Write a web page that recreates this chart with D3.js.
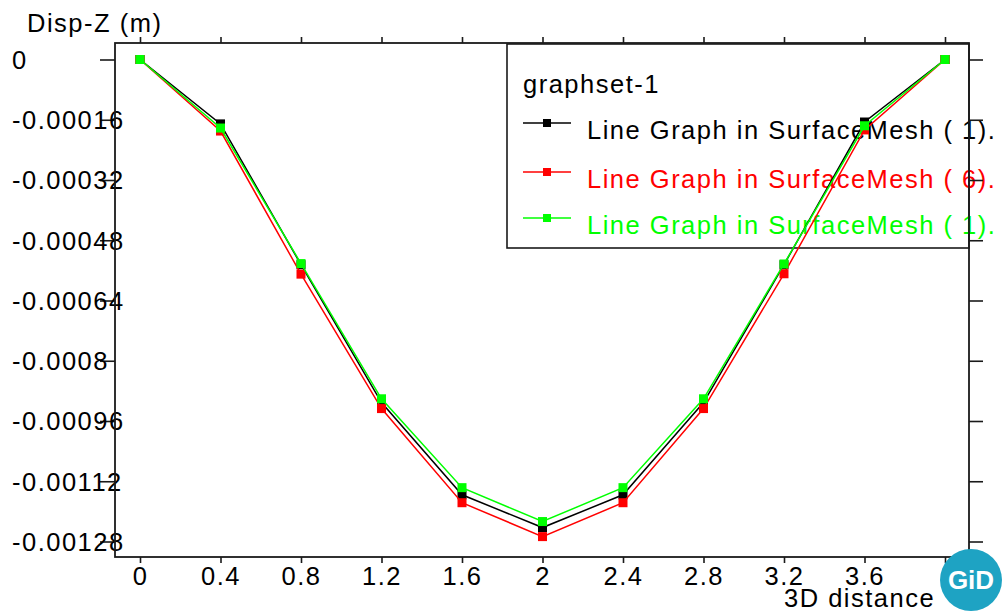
<!DOCTYPE html>
<html>
<head>
<meta charset="utf-8">
<script src="https://cdn.jsdelivr.net/npm/d3@7"></script>
<style>
  html, body { margin: 0; padding: 0; background: #fff; }
  svg { display: block; }
  text { font-family: "Liberation Sans", Arial, Helvetica, sans-serif; font-size: 25.5px; letter-spacing: 1.5px; }
</style>
</head>
<body>
<svg id="chart" width="1002" height="612"></svg>
<script>
// Distance along the cut line (3D distance)
const distances = [0, 0.4, 0.8, 1.2, 1.6, 2.0, 2.4, 2.8, 3.2, 3.6, 4.0];

// Disp-Z (m) for each line graph
const seriesBlack = [0, -0.000171, -0.000545, -0.000911, -0.001156, -0.001243, -0.001156, -0.000911, -0.000545, -0.000166, 0];
const seriesRed   = [0, -0.000190, -0.000570, -0.000927, -0.001177, -0.001267, -0.001177, -0.000927, -0.000569, -0.000187, 0];
const seriesGreen = [0, -0.000182, -0.000542, -0.000901, -0.001137, -0.001227, -0.001137, -0.000901, -0.000543, -0.000176, 0];

const seriesNames = [
  "Line Graph in SurfaceMesh ( 1).",
  "Line Graph in SurfaceMesh ( 6).",
  "Line Graph in SurfaceMesh ( 1)."
];
const seriesColors = ["#000000", "#ff0000", "#00ff00"];

// the last tick (4) carries no visible label: the badge sits over it
const xTickValues = [0, 0.4, 0.8, 1.2, 1.6, 2.0, 2.4, 2.8, 3.2, 3.6, 4.0];
const xTickLabels = ["0", "0.4", "0.8", "1.2", "1.6", "2", "2.4", "2.8", "3.2", "3.6"];
const yTickValues = [0, -0.00016, -0.00032, -0.00048, -0.00064, -0.0008, -0.00096, -0.00112, -0.00128];
const yTickLabels = ["0", "-0.00016", "-0.00032", "-0.00048", "-0.00064", "-0.0008", "-0.00096", "-0.00112", "-0.00128"];

const svg = d3.select("#chart");

// plot frame
const frame = { left: 115, right: 969, top: 43, bottom: 557 };

const x = d3.scaleLinear().domain([0, 4]).range([140, 945]);
const y = d3.scaleLinear().domain([0, -0.00128]).range([59.5, 541.5]);

const axisColor = "#1a1a1a";

// legend box sits beneath the curves
const legend = svg.append("g");
legend.append("rect")
  .attr("x", 507).attr("y", 44)
  .attr("width", 462).attr("height", 204)
  .attr("fill", "#fff").attr("stroke", axisColor).attr("stroke-width", 1.6);
legend.append("text")
  .attr("x", 523).attr("y", 93)
  .attr("fill", "#000")
  .text("graphset-1");

const legendRows = [123, 172, 218];
seriesNames.forEach((name, i) => {
  const g = legend.append("g");
  g.append("line")
    .attr("x1", 523).attr("x2", 571)
    .attr("y1", legendRows[i]).attr("y2", legendRows[i])
    .attr("stroke", seriesColors[i]).attr("stroke-width", 1.5);
  g.append("rect")
    .attr("x", 543).attr("y", legendRows[i] - 4)
    .attr("width", 8).attr("height", 8)
    .attr("fill", seriesColors[i]);
  g.append("text")
    .attr("x", 587).attr("y", legendRows[i] + 16)
    .attr("fill", seriesColors[i])
    .text(name);
});

// axes: ticks on all four sides
const axisLeft = d3.axisLeft(y).tickValues(yTickValues).tickSize(15).tickFormat((d, i) => yTickLabels[i]);
const gLeft = svg.append("g").attr("transform", `translate(${frame.left},0)`).call(axisLeft);
gLeft.selectAll("text")
  .attr("x", -frame.left + 12).attr("dy", "0.35em")
  .attr("text-anchor", "start");

const axisRight = d3.axisRight(y).tickValues(yTickValues).tickSize(14).tickFormat("");
svg.append("g").attr("transform", `translate(${frame.right},0)`).call(axisRight);

const axisBottom = d3.axisBottom(x).tickValues(xTickValues).tickSize(6).tickFormat((d, i) => xTickLabels[i] || "");
const gBottom = svg.append("g").attr("transform", `translate(0,${frame.bottom})`).call(axisBottom);
gBottom.selectAll("text").attr("y", 28).attr("dy", 0);
gBottom.selectAll("text").filter(function () { return this.textContent === ""; }).remove();

const axisTop = d3.axisTop(x).tickValues(xTickValues).tickSize(6).tickFormat("");
svg.append("g").attr("transform", `translate(0,${frame.top})`).call(axisTop);

svg.selectAll(".domain").remove();
svg.selectAll(".tick line").attr("stroke", axisColor).attr("stroke-width", 1.6);
svg.selectAll(".tick text")
  .attr("fill", "#000")
  .style("font-family", "'Liberation Sans', Arial, Helvetica, sans-serif")
  .style("font-size", "25.5px");

svg.append("rect")
  .attr("x", frame.left).attr("y", frame.top)
  .attr("width", frame.right - frame.left).attr("height", frame.bottom - frame.top)
  .attr("fill", "none").attr("stroke", axisColor).attr("stroke-width", 1.8);

// axis titles
svg.append("text").attr("x", 27).attr("y", 32).attr("fill", "#000").text("Disp-Z (m)");
svg.append("text").attr("x", 784).attr("y", 607).attr("fill", "#000").text("3D distance");

// curves
const line = d3.line().x(d => x(d[0])).y(d => y(d[1]));
const allSeries = [seriesBlack, seriesRed, seriesGreen];
allSeries.forEach((vals, i) => {
  const pts = distances.map((d, j) => [d, vals[j]]);
  const g = svg.append("g");
  g.append("path")
    .datum(pts)
    .attr("d", line)
    .attr("fill", "none")
    .attr("stroke", seriesColors[i])
    .attr("stroke-width", 1.5);
  g.selectAll("rect")
    .data(pts)
    .enter().append("rect")
    .attr("x", d => x(d[0]) - 4.5)
    .attr("y", d => y(d[1]) - 4.5)
    .attr("width", 9).attr("height", 9)
    .attr("fill", seriesColors[i]);
});

// GiD badge
const badge = svg.append("g").attr("transform", "translate(971,580)");
badge.append("circle").attr("r", 31).attr("fill", "#1ea3c3");
badge.append("text")
  .attr("text-anchor", "middle").attr("y", 9)
  .attr("fill", "#fff")
  .style("font-size", "26px").style("font-weight", "bold").style("letter-spacing", "0px")
  .text("GiD");
</script>
</body>
</html>
